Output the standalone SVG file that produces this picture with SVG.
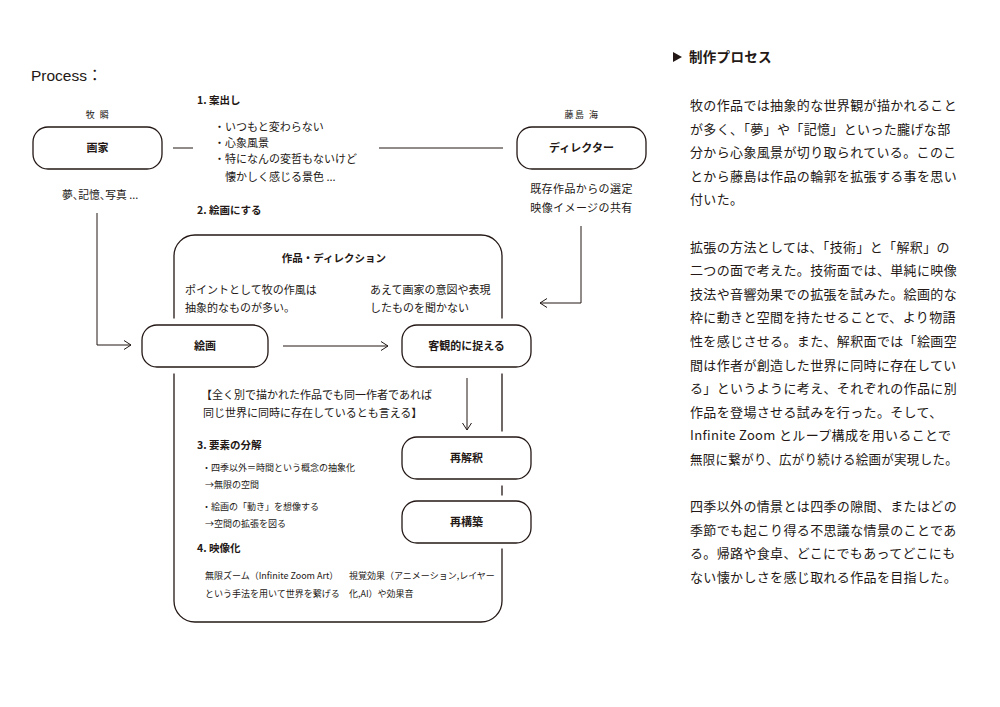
<svg xmlns="http://www.w3.org/2000/svg" width="1000" height="707" viewBox="0 0 1000 707">
<style>
text{font-family:"Noto Sans CJK JP","Noto Sans",sans-serif;fill:#231815}
.lat{font-family:"Liberation Sans","Noto Sans CJK JP",sans-serif}
.node rect.box{fill:#fff;stroke:#231815;stroke-width:1.3}
.halo{fill:#fff;stroke:none}
.lbl{font-size:11px;font-weight:700;text-anchor:middle}
.cap{font-size:9px;text-anchor:middle;letter-spacing:1.5px}
.h{font-size:10.5px;font-weight:700}
.s11{font-size:11px}
.s10{font-size:10.8px}
.s9{font-size:9px}
.mid{text-anchor:middle}
.conn{stroke:#231815;stroke-width:1;fill:none}
.frame{fill:none;stroke:#231815;stroke-width:1.3}
.para{font-size:13px;letter-spacing:0.35px}
</style>
<defs>
<marker id="arr" viewBox="0 0 8 10" refX="7.5" refY="5" markerWidth="8" markerHeight="10" markerUnits="userSpaceOnUse" orient="auto">
<path d="M0.5,0.5 L7.5,5 L0.5,9.5" fill="none" stroke="#231815" stroke-width="1"/>
</marker>
</defs>
<rect width="1000" height="707" fill="#fff"/>

<text class="lat" x="31" y="81" font-size="15.5">Process：</text>

<g id="frame-sakuhin">
<rect class="frame" x="174" y="235" width="328" height="387" rx="21"/>
<text class="mid" x="334" y="262" font-size="10.5" font-weight="700">作品・ディレクション</text>
<text class="s11" x="185" y="294">ポイントとして牧の作風は</text>
<text class="s11" x="185" y="312">抽象的なものが多い。</text>
<text class="s11" x="370" y="294">あえて画家の意図や表現</text>
<text class="s11" x="370" y="312">したものを聞かない</text>
<text class="s11" x="201" y="399">【全く別で描かれた作品でも同一作者であれば</text>
<text class="s11" x="203" y="417">同じ世界に同時に存在しているとも言える】</text>
<text class="h" x="197" y="449">3. 要素の分解</text>
<text class="s9" x="202" y="470.5">・四季以外＝時間という概念の抽象化</text>
<text class="s9" x="205" y="487.5">→無限の空間</text>
<text class="s9" x="202" y="509.5">・絵画の「動き」を想像する</text>
<text class="s9" x="205" y="526.5">→空間の拡張を図る</text>
<text class="h" x="197" y="552">4. 映像化</text>
<text class="s9" x="205" y="579">無限ズーム（Infinite Zoom Art）</text>
<text class="s9" x="205" y="596.5">という手法を用いて世界を繋げる</text>
<text class="s9" x="349" y="579">視覚効果（アニメーション,レイヤー</text>
<text class="s9" x="349" y="596.5">化,AI）や効果音</text>
</g>

<g id="idea-text">
<text class="h" x="197" y="104">1. 案出し</text>
<text class="s11" x="214" y="131">・いつもと変わらない</text>
<text class="s11" x="214" y="147">・心象風景</text>
<text class="s11" x="214" y="163">・特になんの変哲もないけど</text>
<text class="s11" x="225" y="181">懐かしく感じる景色 ...</text>
<text class="h" x="197" y="214">2. 絵画にする</text>
</g>

<g id="connectors">
<path class="conn" d="M173,148 H193"/>
<path class="conn" d="M379,148 H503"/>
<path class="conn" d="M97,213 V345 H131" marker-end="url(#arr)"/>
<path class="conn" d="M581,226 V303 H540" marker-end="url(#arr)"/>
<path class="conn" d="M283,346 H388" marker-end="url(#arr)"/>
<path class="conn" d="M467,378 V430" marker-end="url(#arr)"/>
</g>

<g id="node-gaka" class="node">
<text class="cap" x="98" y="118">牧 瞬</text>
<rect class="box" x="33" y="127" width="129" height="42" rx="15"/>
<text class="lbl" x="97.5" y="152">画家</text>
<text class="s10" x="62" y="199" style="font-feature-settings:'palt'">夢、記憶、写真 ...</text>
</g>

<g id="node-director" class="node">
<text class="cap" x="582" y="118">藤島 海</text>
<rect class="box" x="517" y="127" width="129" height="42" rx="15"/>
<text class="lbl" x="581.5" y="152">ディレクター</text>
<text class="s11 mid" x="581.5" y="192.5" letter-spacing="0.4">既存作品からの選定</text>
<text class="s11 mid" x="581.5" y="211.5" letter-spacing="0.4">映像イメージの共有</text>
</g>

<g id="node-kaiga" class="node">
<rect class="halo" x="141" y="318.5" width="128" height="55"/>
<rect class="box" x="142" y="325" width="126" height="42" rx="15"/>
<text class="lbl" x="205" y="350">絵画</text>
</g>

<g id="node-kyakkan" class="node">
<rect class="halo" x="401" y="318.5" width="131" height="55"/>
<rect class="box" x="402" y="325" width="129" height="42" rx="15"/>
<text class="lbl" x="466.5" y="350">客観的に捉える</text>
</g>

<g id="node-saikaishaku" class="node">
<rect class="halo" x="401" y="431.5" width="131" height="54"/>
<rect class="box" x="402" y="437" width="129" height="42" rx="15"/>
<text class="lbl" x="466.5" y="462">再解釈</text>
</g>

<g id="node-saikouchiku" class="node">
<rect class="halo" x="401" y="495.5" width="131" height="53"/>
<rect class="box" x="402" y="501" width="129" height="42" rx="15"/>
<text class="lbl" x="466.5" y="526">再構築</text>
</g>

<g id="explanation">
<path d="M673,52 L682,57 L673,62 Z" fill="#231815"/>
<text x="689" y="62" font-size="13.5" font-weight="700" letter-spacing="0.3">制作プロセス</text>
<text class="para" x="690" y="110">牧の作品では抽象的な世界観が描かれること</text>
<text class="para" x="690" y="133.6">が多く、「夢」や「記憶」といった朧げな部</text>
<text class="para" x="690" y="157.2">分から心象風景が切り取られている。このこ</text>
<text class="para" x="690" y="180.8">とから藤島は作品の輪郭を拡張する事を思い</text>
<text class="para" x="690" y="204.4">付いた。</text>
<text class="para" x="690" y="251.6">拡張の方法としては、「技術」と「解釈」の</text>
<text class="para" x="690" y="275.2">二つの面で考えた。技術面では、単純に映像</text>
<text class="para" x="690" y="298.8">技法や音響効果での拡張を試みた。絵画的な</text>
<text class="para" x="690" y="322.4">枠に動きと空間を持たせることで、より物語</text>
<text class="para" x="690" y="346">性を感じさせる。また、解釈面では「絵画空</text>
<text class="para" x="690" y="369.6">間は作者が創造した世界に同時に存在してい</text>
<text class="para" x="690" y="393.2">る」というように考え、それぞれの作品に別</text>
<text class="para" x="690" y="416.8">作品を登場させる試みを行った。そして、</text>
<text class="para" x="690" y="440.4">Infinite Zoom とループ構成を用いることで</text>
<text class="para" x="690" y="464" textLength="268" lengthAdjust="spacingAndGlyphs">無限に繋がり、広がり続ける絵画が実現した。</text>
<text class="para" x="690" y="511.2">四季以外の情景とは四季の隙間、またはどの</text>
<text class="para" x="690" y="534.8">季節でも起こり得る不思議な情景のことであ</text>
<text class="para" x="690" y="558.4">る。帰路や食卓、どこにでもあってどこにも</text>
<text class="para" x="690" y="582">ない懐かしさを感じ取れる作品を目指した。</text>
</g>
</svg>
